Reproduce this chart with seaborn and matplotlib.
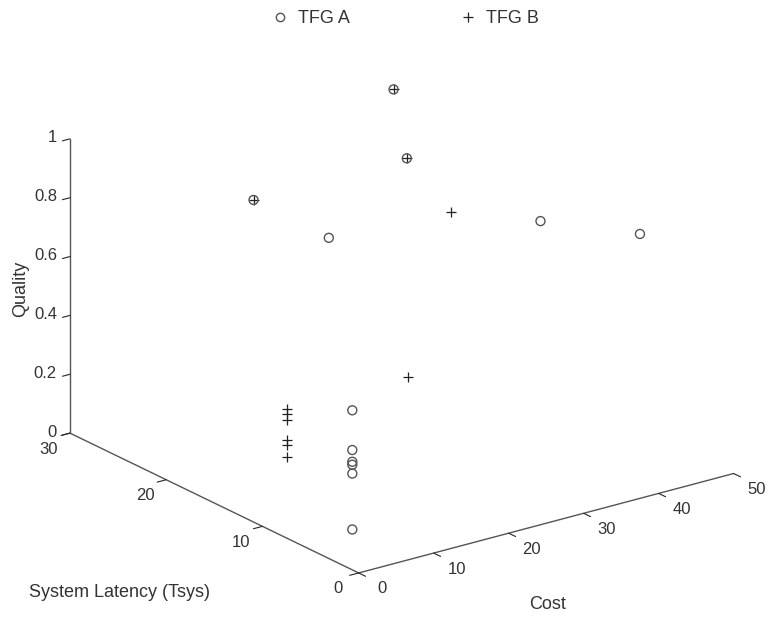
import numpy as np
import pandas as pd
import seaborn as sns
import matplotlib
matplotlib.use("Agg")
import matplotlib.pyplot as plt
from matplotlib.lines import Line2D
from mpl_toolkits.mplot3d import proj3d

# Design points: (cost, system latency, quality) for each task flow graph
cost_a    = [39.3, 30.8, 12.8, 20.4, 39.0, 47.9, 3, 3, 3, 3, 3, 3]
latency_a = [27.0, 19.0, 20.9, 19.0, 11.5, 8.1, 3, 3, 3, 3, 3, 3]
quality_a = [0.95, 0.90, 0.85, 0.70, 0.75, 0.70, 0.08, 0.27, 0.30, 0.31, 0.35, 0.485]

cost_b    = [39.3, 30.8, 12.8, 30.3, 26.0, 2, 2, 2, 2, 2, 2]
latency_b = [27.0, 19.0, 20.9, 14.0, 15.1, 9, 9, 9, 9, 9, 9]
quality_b = [0.95, 0.90, 0.85, 0.80, 0.25, 0.237, 0.278, 0.295, 0.365, 0.383, 0.40]

cost_ticks = [0, 10, 20, 30, 40, 50]
latency_ticks = [0, 10, 20, 30]
quality_ticks = [0, 0.2, 0.4, 0.6, 0.8, 1]
quality_ticklabels = ["0", "0.2", "0.4", "0.6", "0.8", "1"]

df = pd.concat([
    pd.DataFrame({"Cost": cost_a, "Latency": latency_a, "Quality": quality_a, "Graph": "TFG A"}),
    pd.DataFrame({"Cost": cost_b, "Latency": latency_b, "Quality": quality_b, "Graph": "TFG B"}),
], ignore_index=True)

sns.set_style("white")
plt.rcParams["font.family"] = ["Liberation Sans", "DejaVu Sans"]

ink = "#333333"
axis_col = "#555555"
circle_col = "#555555"
plus_col = "#222222"
DPI = 100

fig = plt.figure(figsize=(7.75, 6.19), dpi=DPI)
ax = fig.add_axes([0.016, 0.0076, 0.984, 0.9693], projection="3d", proj_type="ortho")
ax.view_init(elev=21, azim=-126.5)
ax.set_box_aspect((1.48, 1.54, 1.0), zoom=1.2027)

styles = {"TFG A": dict(marker="o", facecolors="none", edgecolors=circle_col, s=42, linewidths=1.0),
          "TFG B": dict(marker="+", c=plus_col, s=45, linewidths=0.9)}
for name, sub in df.groupby("Graph"):
    ax.scatter(sub["Cost"], sub["Latency"], sub["Quality"], depthshade=False, **styles[name])

ax.set_xlim(0, 50)
ax.set_ylim(0, 30)
ax.set_zlim(0, 1)
ax.set_xticks(cost_ticks)
ax.set_yticks(latency_ticks)
ax.set_zticks(quality_ticks)
ax.grid(False)
for title in (ax.title, ax._left_title, ax._right_title):
    title.set_visible(False)

for axis, inward, outward in ((ax.xaxis, 0.3, 0.0), (ax.yaxis, 0.3, 0.0), (ax.zaxis, 0.25, 0.0)):
    axis.set_pane_color((1, 1, 1, 0))
    axis.pane.set_edgecolor((1, 1, 1, 0))
    axis.line.set_color(axis_col)
    axis.line.set_linewidth(1.0)
    axis._axinfo["tick"]["inward_factor"] = inward
    axis._axinfo["tick"]["outward_factor"] = outward
    axis._axinfo["tick"]["color"] = axis_col
    # tick labels are placed by hand below, so the built-in ones are switched off
    axis.set_tick_params(which="both", label1On=False, label2On=False)
    axis.label.set_visible(False)
    axis.offsetText.set_visible(False)

# Project the tick positions once and label them as ordinary 2D annotations
M = ax.get_proj()
tick_font = dict(fontsize=12, color=ink, textcoords="offset pixels", annotation_clip=False)


def tick_label(text, x, y, z, dx, dy, ha="center"):
    px, py, _ = proj3d.proj_transform(x, y, z, M)
    ax.annotate(text, (px, py), xycoords="data", xytext=(dx, dy), ha=ha, va="center", **tick_font)


for t in cost_ticks:
    tick_label(str(t), t, 0, 0, 23, -16)
for t in latency_ticks:
    tick_label(str(t), 0, t, 0, -21, -16)
for t, lab in zip(quality_ticks, quality_ticklabels):
    tick_label(lab, 0, 30, t, -13, 1, ha="right")

fig.text(0.026, 0.533, "Quality", rotation=90, ha="center", va="center", fontsize=13, color=ink)
fig.text(0.037, 0.043, "System Latency (Tsys)", ha="left", va="center", fontsize=13, color=ink)
fig.text(0.707, 0.024, "Cost", ha="center", va="center", fontsize=13, color=ink)

handles = [Line2D([], [], marker="o", ls="none", mfc="none", mec=circle_col, ms=6, mew=1.0),
           Line2D([], [], marker="+", ls="none", color=plus_col, ms=7, mew=0.9)]
fig.legend(handles, ["TFG A", "TFG B"], loc="upper center", bbox_to_anchor=(0.5226, 1.01), ncol=2,
           frameon=False, fontsize=13, columnspacing=6, handlelength=1.0, handletextpad=0.5,
           labelcolor=ink)

fig.savefig("out.png", dpi=DPI)
